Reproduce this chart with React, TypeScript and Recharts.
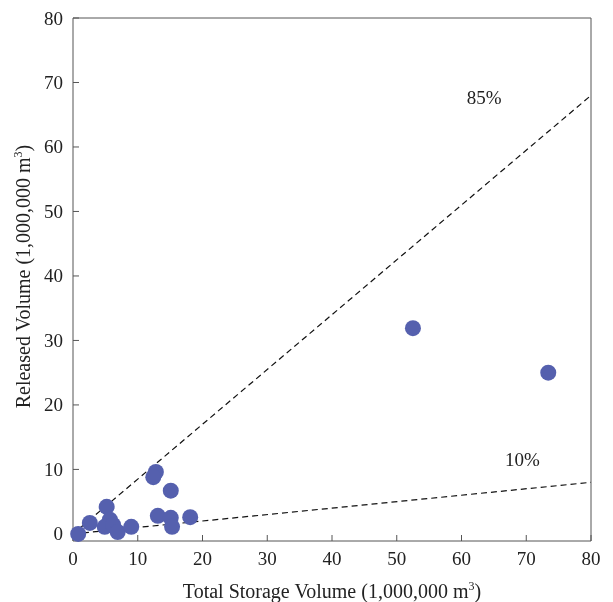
import React from 'react';
import {
  ScatterChart,
  Scatter,
  XAxis,
  YAxis,
  ReferenceLine,
  ReferenceDot,
} from 'recharts';

const storage = [0.8, 2.6, 5.2, 5.7, 4.9, 6.2, 6.9, 9.0, 12.8, 12.4, 15.1, 13.1, 15.1, 15.3, 18.1, 52.5, 73.4];
const released = [0.0, 1.7, 4.2, 2.2, 1.1, 1.4, 0.3, 1.1, 9.6, 8.8, 6.7, 2.8, 2.5, 1.1, 2.6, 31.9, 25.0];
const ticks = [0, 10, 20, 30, 40, 50, 60, 70, 80];
const ratioLines = [
  { name: '85%', ratio: 0.85, labelX: 63.5, labelY: 67.7 },
  { name: '10%', ratio: 0.1, labelX: 69.4, labelY: 11.6 },
];

const points = storage.map((x, i) => ({ x, y: released[i] }));

const font = 'Liberation Serif, DejaVu Serif, serif';
const axisColor = '#555';
const textColor = '#222';

const XTick = (p: any) => (
  <text x={p.x} y={p.y} dy={18} textAnchor="middle" fontSize={19} fill={textColor} style={{ fontFamily: font }}>
    {p.payload.value}
  </text>
);

const YTick = (p: any) => (
  <text x={p.x} y={p.y} dy={6.5} textAnchor="end" fontSize={19} fill={textColor} style={{ fontFamily: font }}>
    {p.payload.value}
  </text>
);

const RatioLabel = (props: any) => {
  const vb = props.viewBox;
  const cx = vb.x + vb.width / 2;
  const cy = vb.y + vb.height / 2;
  return (
    <text x={cx} y={cy} dy={7} textAnchor="middle" fontSize={19} fill={textColor} style={{ fontFamily: font }}>
      {props.value}
    </text>
  );
};

export default function App() {
  return (
    <div style={{ position: 'fixed', top: 0, left: 0, width: 613, height: 602, fontFamily: font }}>
      <ScatterChart
        width={613}
        height={602}
        margin={{ top: 17, right: 21, bottom: 21, left: 13 }}
      >
        <XAxis
          type="number"
          dataKey="x"
          domain={[0, 80]}
          ticks={ticks}
          height={40}
          tickSize={-6}
          tickMargin={12}
          tick={<XTick />}
          stroke={axisColor}
          label={{
            content: (props: any) => {
              const vb = props.viewBox;
              return (
                <text
                  x={vb.x + vb.width / 2}
                  y={vb.y + 57}
                  textAnchor="middle"
                  style={{ fontFamily: font }}
                  fontSize={20}
                  fill={textColor}
                >
                  Total Storage Volume (1,000,000 m
                  <tspan fontSize={12} dy={-8}>3</tspan>
                  <tspan dy={8}>)</tspan>
                </text>
              );
            },
          }}
        />
        <XAxis
          xAxisId="top"
          orientation="top"
          type="number"
          dataKey="x"
          domain={[0, 80]}
          ticks={ticks}
          height={1}
          tickSize={-6}
          tickFormatter={() => ''}
          stroke={axisColor}
        />
        <YAxis
          type="number"
          dataKey="y"
          domain={[-1.1, 80]}
          ticks={ticks}
          width={60}
          tickSize={-6}
          tickMargin={16}
          tick={<YTick />}
          stroke={axisColor}
          label={{
            content: (props: any) => {
              const vb = props.viewBox;
              const cy = vb.y + vb.height / 2 - 3;
              return (
                <text
                  x={30}
                  y={cy}
                  transform={`rotate(-90 30 ${cy})`}
                  textAnchor="middle"
                  style={{ fontFamily: font }}
                  fontSize={20}
                  fill={textColor}
                >
                  Released Volume (1,000,000 m
                  <tspan fontSize={12} dy={-8}>3</tspan>
                  <tspan dy={8}>)</tspan>
                </text>
              );
            },
          }}
        />
        <YAxis
          yAxisId="right"
          orientation="right"
          type="number"
          dataKey="y"
          domain={[-1.1, 80]}
          ticks={ticks}
          width={1}
          tickSize={-6}
          tickFormatter={() => ''}
          stroke={axisColor}
        />
        {ratioLines.map((l) => (
          <ReferenceLine
            key={l.name}
            segment={[
              { x: 0, y: 0 },
              { x: 80, y: 80 * l.ratio },
            ]}
            stroke="#111"
            strokeDasharray="6 4"
            strokeWidth={1.2}
          />
        ))}
        {ratioLines.map((l) => (
          <ReferenceDot
            key={l.name + 'label'}
            x={l.labelX}
            y={l.labelY}
            r={1}
            fill="none"
            stroke="none"
            label={<RatioLabel value={l.name} />}
          />
        ))}
        <Scatter
          data={points}
          fill="#5560AE"
          isAnimationActive={false}
          shape={(p: any) => <circle cx={p.cx} cy={p.cy} r={8} fill="#5560AE" />}
        />
      </ScatterChart>
    </div>
  );
}
